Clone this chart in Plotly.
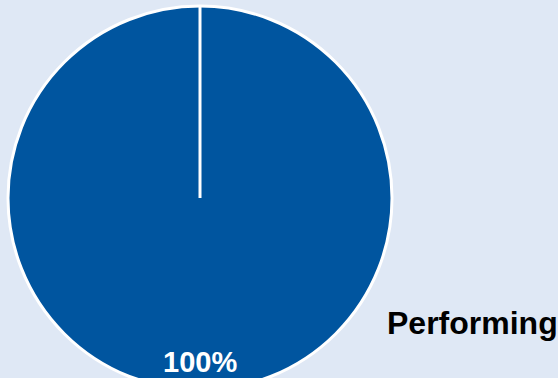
import plotly.graph_objects as go

labels = ["Performing"]
values = [100]
colors = ["#00559F"]

W, H = 558, 392
ml, mt, mb = 8, 6, 2
R = (H - mt - mb) / 2
dom_x = [0, 2 * R / (W - ml)]

pct = "%d%%" % round(100 * values[0] / sum(values))

fig = go.Figure(go.Pie(
    labels=labels,
    values=values,
    marker=dict(colors=colors, line=dict(color="white", width=3)),
    textinfo="none",
    hoverinfo="label+percent",
    sort=False,
    showlegend=False,
    domain=dict(x=dom_x, y=[0, 1]),
))

# radial line at the start of the slice (center to top)
cx = dom_x[1] / 2
fig.add_shape(type="line", xref="paper", yref="paper",
              x0=cx, y0=0.5, x1=cx, y1=1,
              line=dict(color="white", width=3))

fig.add_annotation(text="<b>%s</b>" % pct, xref="paper", yref="paper",
                   x=cx, y=0.073, yanchor="middle", showarrow=False,
                   font=dict(color="white", size=29))
fig.add_annotation(text="<b>%s</b>" % labels[0], xref="paper", yref="paper",
                   x=1.0, y=0.175, xanchor="right", yanchor="middle",
                   xshift=2, showarrow=False,
                   font=dict(color="black", size=32))

fig.update_layout(
    width=W, height=H,
    margin=dict(l=ml, r=0, t=mt, b=mb),
    paper_bgcolor="#DFE8F5",
    font=dict(family="Liberation Sans, Arial, sans-serif"),
)

# page itself: no margin, no scrollbars (pie runs off the bottom edge)
fig.write_html("out.html",
               config=dict(displayModeBar=False),
               post_script="document.body.style.margin='0';"
                           "document.body.style.overflow='hidden';"
                           "document.documentElement.style.overflow='hidden';")
